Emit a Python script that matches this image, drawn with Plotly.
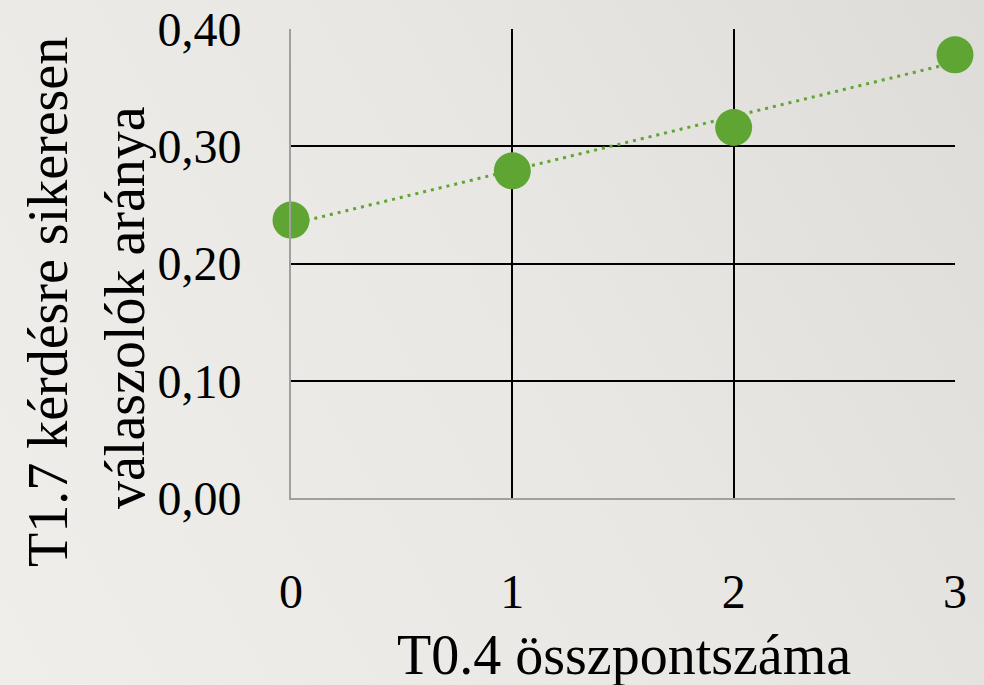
import numpy as np
import plotly.graph_objects as go

x_values = [0, 1, 2, 3]
y_values = [0.237, 0.279, 0.316, 0.378]
x_ticks = [0, 1, 2, 3]
y_ticks = [0.0, 0.1, 0.2, 0.3, 0.4]
x_title = "T0.4 összpontszáma"
y_title_lines = ["T1.7 kérdésre sikeresen", "válaszolók aránya"]

green = "#5fa533"
bg = "#eae9e5"
bg_gradient = "linear-gradient(240deg, #dddcd8 0%, #e8e7e3 45%, #efeeeb 100%)"
font_family = "Liberation Serif"

slope, intercept = np.polyfit(x_values, y_values, 1)
trend_x = [min(x_values), max(x_values)]
trend_y = [intercept + slope * v for v in trend_x]

W, H = 984, 685
ML, MR, MT, MB = 291, 29, 29, 187
plot_w = W - ML - MR
plot_h = H - MT - MB

def px_x(px):
    return (px - ML) / plot_w

def px_y(py):
    return (H - MB - py) / plot_h

fig = go.Figure()
fig.add_trace(go.Scatter(
    x=trend_x, y=trend_y, mode="lines",
    line=dict(color=green, width=3, dash="3px,5px"),
    hoverinfo="skip", cliponaxis=False,
))
fig.add_trace(go.Scatter(
    x=x_values, y=y_values, mode="markers",
    marker=dict(color=green, size=37, line=dict(width=0)),
    cliponaxis=False,
))

fig.update_layout(
    width=W, height=H,
    margin=dict(l=ML, r=MR, t=MT, b=MB, autoexpand=False),
    paper_bgcolor="rgba(0,0,0,0)",
    plot_bgcolor="rgba(0,0,0,0)",
    showlegend=False,
    separators=", ",
    font=dict(family=font_family, color="black", size=48),
    xaxis=dict(
        range=[0, 3], tickvals=x_ticks, tickformat="d",
        showgrid=True, gridcolor="black", gridwidth=2,
        showline=True, linecolor="#a0a0a0", linewidth=2,
        zeroline=False, automargin=False,
        ticks="outside", ticklen=50, tickcolor="rgba(0,0,0,0)",
        tickfont=dict(size=48, family=font_family),
    ),
    yaxis=dict(
        range=[0, 0.4], tickvals=y_ticks, tickformat=".2f",
        showgrid=True, gridcolor="black", gridwidth=2,
        showline=True, linecolor="#a0a0a0", linewidth=2,
        zeroline=False, automargin=False,
        ticks="outside", ticklen=38, tickcolor="rgba(0,0,0,0)",
        tickfont=dict(size=48, family=font_family),
    ),
    annotations=[
        dict(text=x_title, xref="paper", yref="paper",
             x=px_x(624), y=px_y(655),
             showarrow=False, xanchor="center", yanchor="middle",
             font=dict(size=56, family=font_family)),
        dict(text=y_title_lines[0], xref="paper", yref="paper",
             x=px_x(48), y=px_y(302),
             showarrow=False, textangle=-90, xanchor="center", yanchor="middle",
             font=dict(size=56, family=font_family)),
        dict(text=y_title_lines[1], xref="paper", yref="paper",
             x=px_x(125), y=px_y(308),
             showarrow=False, textangle=-90, xanchor="center", yanchor="middle",
             font=dict(size=56, family=font_family)),
    ],
)

fig.write_html(
    "out.html",
    config={"displayModeBar": False},
    post_script=(
        "document.body.style.margin='0';"
        "document.body.style.background='%s';"
        "document.body.style.backgroundImage='%s';" % (bg, bg_gradient)
    ),
)
